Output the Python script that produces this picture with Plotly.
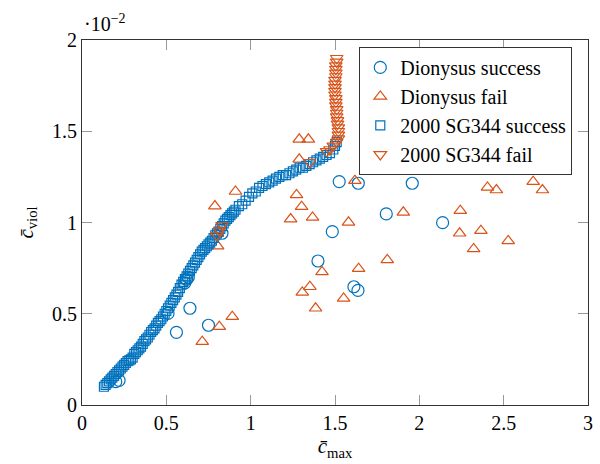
import plotly.graph_objects as go

# y values are in units of 1e-2 (axis shows "·10^-2")
dio_success_x = [0.20, 0.22, 0.51, 0.56, 0.64, 0.75, 0.62, 0.63, 0.61, 0.83,
                 1.525, 1.638, 1.958, 1.804, 2.138, 1.484, 1.399, 1.612, 1.636]
dio_success_y = [0.128, 0.135, 0.502, 0.398, 0.53, 0.437, 0.689, 0.70, 0.67, 0.941,
                 1.224, 1.215, 1.215, 1.047, 0.999, 0.950, 0.789, 0.648, 0.628]

dio_fail_x = [0.788, 0.804, 0.891, 0.814, 0.713, 0.91, 1.288, 1.342, 1.272, 1.302,
              1.288, 1.237, 1.367, 1.618, 1.580, 1.905, 1.810, 1.640, 1.423, 1.351,
              1.306, 1.551, 1.385, 2.404, 2.457, 2.675, 2.730, 2.243, 2.239, 2.365,
              2.527, 2.322, 0.803]
dio_fail_y = [1.090, 0.871, 0.484, 0.429, 0.347, 1.17, 1.456, 1.456, 1.151, 1.087,
              1.346, 1.019, 1.028, 1.229, 1.001, 1.056, 0.795, 0.747, 0.729, 0.648,
              0.617, 0.584, 0.530, 1.192, 1.178, 1.224, 1.178, 1.065, 0.941, 0.955,
              0.899, 0.855, 0.94]

sg_success_x = [0.13, 0.14, 0.15, 0.16, 0.17, 0.18, 0.19, 0.20, 0.21, 0.22, 0.23, 0.24,
                0.25, 0.26, 0.27, 0.28, 0.29, 0.30, 0.31, 0.32, 0.33, 0.34, 0.35, 0.36,
                0.37, 0.38, 0.39, 0.40, 0.41, 0.42, 0.43, 0.44, 0.45, 0.46, 0.47, 0.48,
                0.49, 0.50, 0.51, 0.52, 0.53, 0.54, 0.55, 0.56, 0.57, 0.58, 0.59, 0.60,
                0.61, 0.62, 0.63, 0.64, 0.65, 0.66, 0.67, 0.68, 0.69, 0.70, 0.71, 0.72,
                0.73, 0.74, 0.75, 0.76, 0.77, 0.78, 0.79, 0.80, 0.81, 0.82, 0.83, 0.84,
                0.85, 0.86, 0.87, 0.88, 0.89, 0.90, 0.91, 0.93, 0.95, 0.97, 0.99, 1.01,
                1.03, 1.05, 1.07, 1.09, 1.11, 1.13, 1.15, 1.17, 1.19, 1.21, 1.23, 1.25,
                1.27, 1.29, 1.31, 1.33, 1.35, 1.37, 1.39, 1.41, 1.43, 1.45, 1.47, 1.49,
                1.50, 1.51]
sg_success_y = [0.10, 0.11, 0.12, 0.13, 0.14, 0.15, 0.16, 0.17, 0.18, 0.19, 0.20, 0.21,
                0.22, 0.23, 0.24, 0.245, 0.25, 0.26, 0.28, 0.29, 0.30, 0.31, 0.32, 0.335,
                0.35, 0.36, 0.37, 0.385, 0.40, 0.41, 0.42, 0.435, 0.45, 0.46, 0.47, 0.485,
                0.50, 0.515, 0.53, 0.545, 0.56, 0.575, 0.59, 0.605, 0.62, 0.64, 0.66, 0.675,
                0.69, 0.705, 0.72, 0.735, 0.75, 0.765, 0.78, 0.795, 0.81, 0.825, 0.84, 0.85,
                0.86, 0.87, 0.88, 0.89, 0.90, 0.915, 0.93, 0.94, 0.95, 0.965, 0.98, 0.995,
                1.01, 1.02, 1.03, 1.04, 1.05, 1.06, 1.07, 1.09, 1.10, 1.12, 1.14, 1.16,
                1.17, 1.19, 1.20, 1.21, 1.22, 1.23, 1.24, 1.25, 1.26, 1.26, 1.27, 1.28,
                1.29, 1.30, 1.30, 1.31, 1.32, 1.33, 1.34, 1.35, 1.36, 1.37, 1.38, 1.40,
                1.42, 1.44]

sg_fail_x = [0.80, 0.815, 0.83, 1.35, 1.45, 1.47, 1.49, 1.51, 1.52, 1.52, 1.52, 1.52,
             1.515, 1.515, 1.51, 1.51, 1.51, 1.505, 1.505, 1.505, 1.50, 1.50, 1.50, 1.50,
             1.50, 1.505, 1.505, 1.505, 1.505, 1.51, 1.51]
sg_fail_y = [0.93, 0.955, 0.985, 1.33, 1.39, 1.40, 1.42, 1.44, 1.46, 1.48, 1.50, 1.52,
             1.54, 1.56, 1.58, 1.60, 1.62, 1.64, 1.66, 1.68, 1.70, 1.72, 1.74, 1.76,
             1.78, 1.80, 1.82, 1.84, 1.86, 1.88, 1.90]

tick_vals = [0, 0.5, 1, 1.5, 2, 2.5, 3]
x_tick_text = ["0", "0.5", "1", "1.5", "2", "2.5", "3"]
y_tick_vals = [0, 0.5, 1, 1.5, 2]
y_tick_text = ["0", "0.5", "1", "1.5", "2"]

BLUE = "#0072BD"
ORANGE = "#D95319"
FONT = "Liberation Serif"

fig = go.Figure()
fig.add_trace(go.Scatter(x=dio_success_x, y=dio_success_y, mode="markers",
                         name="Dionysus success",
                         marker=dict(symbol="circle-open", size=12, color=BLUE,
                                     line=dict(width=1.2, color=BLUE))))
fig.add_trace(go.Scatter(x=dio_fail_x, y=dio_fail_y, mode="markers",
                         name="Dionysus fail",
                         marker=dict(symbol="triangle-up-open", size=11, color=ORANGE,
                                     line=dict(width=1.2, color=ORANGE))))
fig.add_trace(go.Scatter(x=sg_success_x, y=sg_success_y, mode="markers",
                         name="2000 SG344 success",
                         marker=dict(symbol="square-open", size=9, color=BLUE,
                                     line=dict(width=1.2, color=BLUE))))
fig.add_trace(go.Scatter(x=sg_fail_x, y=sg_fail_y, mode="markers",
                         name="2000 SG344 fail",
                         marker=dict(symbol="triangle-down-open", size=11, color=ORANGE,
                                     line=dict(width=1.2, color=ORANGE))))

axis_common = dict(showline=True, linecolor="#333", linewidth=1.2, mirror="ticks",
                   ticks="inside", ticklen=10, tickcolor="#999", tickwidth=1,
                   showgrid=False, zeroline=False, automargin=False,
                   tickfont=dict(family=FONT, size=20, color="black"))

fig.update_layout(
    width=600, height=464,
    margin=dict(l=82, r=12, t=40, b=59, autoexpand=False),
    paper_bgcolor="white", plot_bgcolor="white",
    font=dict(family=FONT, size=20, color="black"),
    xaxis=dict(range=[0, 3], tickvals=tick_vals, ticktext=x_tick_text,
               title=dict(text="<i>c̄</i><sub>max</sub>", standoff=4,
                          font=dict(family=FONT, size=21)),
               **axis_common),
    yaxis=dict(range=[0, 2], tickvals=y_tick_vals, ticktext=y_tick_text,
               title=dict(text="<i>c̄</i><sub>viol</sub>", standoff=12,
                          font=dict(family=FONT, size=21)),
               **axis_common),
    legend=dict(x=0.548, y=0.981, xanchor="left", yanchor="top",
                bordercolor="#333", borderwidth=1, bgcolor="white",
                font=dict(family=FONT, size=20), itemwidth=30, tracegroupgap=0),
    showlegend=True,
)

fig.add_annotation(text="·10<sup>−2</sup>", xref="paper", yref="paper",
                   x=0.0, y=1.0, xanchor="left", yanchor="bottom", yshift=3,
                   showarrow=False, font=dict(family=FONT, size=20))

fig.write_html("out.html", config={"displayModeBar": False},
               post_script="document.body.style.margin='0';document.body.style.padding='0';")
